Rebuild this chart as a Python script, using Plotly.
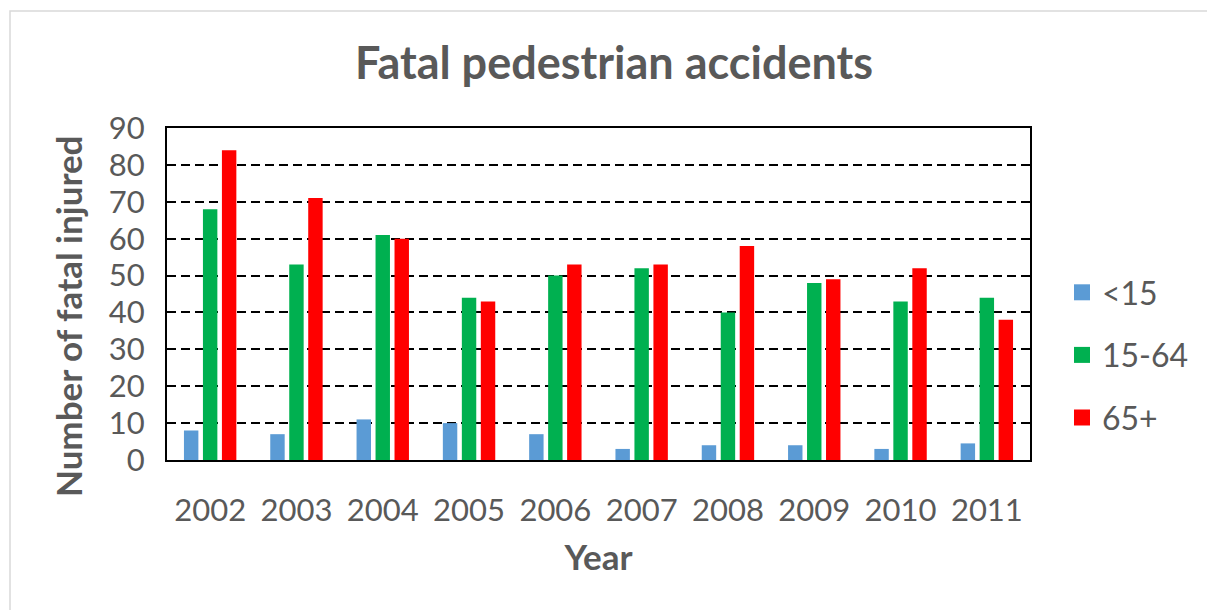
import plotly.graph_objects as go

years = ["2002", "2003", "2004", "2005", "2006", "2007", "2008", "2009", "2010", "2011"]
under15 = [8, 7, 11, 10, 7, 3, 4, 4, 3, 4.5]
age15_64 = [68, 53, 61, 44, 50, 52, 40, 48, 43, 44]
age65plus = [84, 71, 60, 43, 53, 53, 58, 49, 52, 38]

series_names = ["<15", "15-64", "65+"]
series_colors = ["#5B9BD5", "#00B050", "#FF0000"]
y_ticks = [0, 10, 20, 30, 40, 50, 60, 70, 80, 90]

FONT = "Lato, Carlito, Calibri, sans-serif"
GRAY = "#595959"

# page body has an 8px default margin; plot area target on screen: x 167-1030, y 128-460
L, T, R, B = 159, 120, 1215 - 1022, 610 - 452
PW, PH = 1022 - 159, 452 - 120

fig = go.Figure()
for name, vals, col in zip(series_names, [under15, age15_64, age65plus], series_colors):
    fig.add_trace(go.Bar(x=years, y=vals, name=name, showlegend=False,
                         marker=dict(color=col, line=dict(width=0))))
# legend entries with larger square swatches
for name, col in zip(series_names, series_colors):
    fig.add_trace(go.Scatter(x=[None], y=[None], mode="markers", name=name, legendgroup=name,
                             marker=dict(symbol="square", size=20, color=col)))

fig.update_layout(
    width=1215, height=610,
    margin=dict(l=L, r=R, t=T, b=B, autoexpand=False),
    paper_bgcolor="white", plot_bgcolor="white",
    barmode="group", bargap=0.34, bargroupgap=0.24,
    font=dict(family=FONT, color=GRAY),
    title=dict(text="<b>Fatal pedestrian accidents</b>", x=(614 - 8) / 1215, xref="container",
               xanchor="center", y=1 - 55 / 610, yref="container", yanchor="middle",
               font=dict(size=45, color=GRAY, family=FONT)),
    showlegend=True,
    legend=dict(x=(1062 - 167) / PW, xanchor="left", y=(460 - 355) / PH, yanchor="middle",
                font=dict(size=32, color=GRAY, family=FONT),
                tracegroupgap=18, traceorder="grouped",
                bgcolor="rgba(0,0,0,0)", itemwidth=30),
    xaxis=dict(type="category", showline=True, linecolor="black", linewidth=2, mirror=True,
               showgrid=False, ticks="", ticklabelstandoff=22,
               tickfont=dict(size=31, color=GRAY),
               title=dict(text="<b>Year</b>", font=dict(size=35, color=GRAY), standoff=18)),
    yaxis=dict(range=[0, 90], tickvals=y_ticks, showline=True, linecolor="black",
               linewidth=2, mirror=True, showgrid=True, gridcolor="black", gridwidth=1.6,
               griddash="9px,5px", ticks="inside", ticklen=6, tickcolor="black",
               tickwidth=1.5, ticklabelstandoff=14, zeroline=False,
               tickfont=dict(size=31, color=GRAY)),
    annotations=[dict(text="<b>Number of fatal injured</b>", textangle=-90,
                      xref="paper", yref="paper", x=(68 - 167) / PW, y=(460 - 317) / PH,
                      xanchor="center", yanchor="middle", showarrow=False,
                      font=dict(size=35, color=GRAY, family=FONT))],
    shapes=[dict(type="rect", xref="paper", yref="paper",
                 x0=(2 - L) / PW, x1=(1205 - L) / PW, y0=-200 / PH, y1=(452 - 3) / PH,
                 line=dict(color="#D9D9D9", width=1.5), fillcolor="rgba(0,0,0,0)", layer="below")],
)

fig.write_html("out.html")
